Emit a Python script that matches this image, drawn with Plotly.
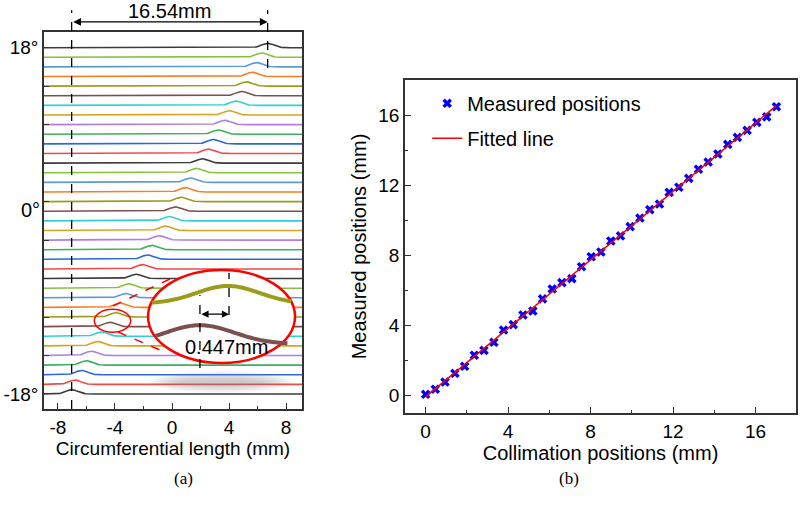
import numpy as np
import plotly.graph_objects as go

# ---- (a) stacked profiles, one per angle, listed bottom (-18°) to top (18°)
peak_pos = [-7.04, -6.81, -6.34, -6.00, -5.65, -5.20, -4.95, -4.35, -3.93, -3.62,
            -3.23, -3.02, -2.50, -2.05, -1.70, -1.40, -0.89, -0.45, -0.19, 0.25,
            0.66, 0.96, 1.31, 1.73, 2.13, 2.55, 2.90, 3.25, 3.72, 4.02,
            4.49, 4.89, 5.24, 5.64, 5.94, 6.29, 6.71]
angle_ticks = ["-18°", "18°"]
colors = ["#3c3c3c", "#86c240", "#5b9bd5", "#f57f27", "#9c9c1c", "#7d5050",
          "#2fd0d8", "#d6a323", "#b07ee6", "#3fae60", "#2a68dc", "#ee4a4a"]

# ---- (b) collimation vs measured positions (mm)
collim = [0.00, 0.47, 0.94, 1.42, 1.89, 2.36, 2.83, 3.31, 3.78, 4.25,
          4.72, 5.20, 5.67, 6.14, 6.61, 7.09, 7.56, 8.03, 8.50, 8.98,
          9.45, 9.92, 10.39, 10.87, 11.34, 11.81, 12.28, 12.76, 13.23, 13.70,
          14.17, 14.65, 15.12, 15.59, 16.06, 16.54, 17.01]
measured = [0.08, 0.37, 0.78, 1.28, 1.68, 2.31, 2.59, 3.05, 3.75, 4.06,
            4.61, 4.84, 5.53, 6.10, 6.46, 6.69, 7.37, 7.94, 8.21, 8.84,
            9.13, 9.66, 10.15, 10.63, 10.95, 11.62, 11.91, 12.42, 12.94, 13.35,
            13.81, 14.36, 14.76, 15.16, 15.62, 15.93, 16.51]

FONT = "Liberation Sans, Arial, sans-serif"
n = len(peak_pos)
xs = np.linspace(-8.98, 9.12, 500)

fig = go.Figure()

for i, c in enumerate(peak_pos):
    ys = i + 0.45 * np.exp(-((xs - c) ** 2) / (2 * 0.42 ** 2))
    fig.add_trace(go.Scatter(x=xs, y=ys, mode="lines", showlegend=False,
                             line=dict(color=colors[(n - 1 - i) % 12], width=1.6),
                             xaxis="x", yaxis="y", hoverinfo="skip"))

slope, icpt = np.polyfit(collim, measured, 1)
fit_x = [collim[0], collim[-1]]
fit_y = [icpt + slope * v for v in fit_x]

fig.add_trace(go.Scatter(x=collim, y=measured, mode="markers", name="Measured positions",
                         marker=dict(symbol="x", size=8.5, color="#0000ff"),
                         xaxis="x2", yaxis="y2", legendrank=1, legendgroup="a"))
fig.add_trace(go.Scatter(x=fit_x, y=fit_y, mode="lines", name="Fitted line",
                         line=dict(color="#ff0000", width=1.5),
                         xaxis="x2", yaxis="y2", legendrank=2, legendgroup="b"))


def gauss_path(c, base, amp, sig, x0, x1):
    px = np.linspace(x0, x1, 80)
    py = base + amp * np.exp(-((px - c) ** 2) / (2 * sig ** 2))
    return "M " + " L ".join(f"{a:.3f},{b:.3f}" for a, b in zip(px, py))


shapes = []
# soft shadow under the magnified view
for k in range(10):
    t = k / 9
    shapes.append(dict(type="circle", xref="x", yref="y", layer="above",
                       x0=-1.6 + 2.2 * t, x1=8.5 - 2.2 * t,
                       y0=0.1 + 0.9 * t, y1=2.4 - 0.9 * t,
                       fillcolor="#888888", opacity=0.05, line=dict(width=0)))
# magnified view
shapes.append(dict(type="circle", xref="x", yref="y", layer="above",
                   x0=-1.68, x1=8.63, y0=3.22, y1=12.89,
                   fillcolor="white", line=dict(color="#ff0000", width=2.5)))
shapes.append(dict(type="path", xref="x", yref="y", layer="above",
                   path=gauss_path(3.93, 9.4, 1.83, 2.2, -1.42, 8.36),
                   line=dict(color="#9c9c1c", width=4)))
shapes.append(dict(type="path", xref="x", yref="y", layer="above",
                   path=gauss_path(1.96, 5.2, 1.95, 2.4, -1.15, 8.1),
                   line=dict(color="#7d5050", width=4)))
shapes.append(dict(type="line", xref="x", yref="y", layer="above",
                   x0=1.96, x1=1.96, y0=2.7, y1=10.3,
                   line=dict(color="black", width=1.3, dash="dash")))
shapes.append(dict(type="line", xref="x", yref="y", layer="above",
                   x0=4.0, x1=4.0, y0=8.2, y1=12.6,
                   line=dict(color="black", width=1.3, dash="dash")))
# small circle + connecting dashed lines
shapes.append(dict(type="circle", xref="x", yref="y", layer="above",
                   x0=-5.45, x1=-2.90, y0=6.41, y1=8.80,
                   line=dict(color="#ff0000", width=1.5)))
shapes.append(dict(type="line", xref="x", yref="y", layer="above",
                   x0=-4.14, y0=9.15, x1=0.44, y1=12.37,
                   line=dict(color="#ff0000", width=1.5, dash="dash")))
shapes.append(dict(type="line", xref="x", yref="y", layer="above",
                   x0=-3.79, y0=6.44, x1=-0.84, y1=4.57,
                   line=dict(color="#ff0000", width=1.5, dash="dash")))
# span markers across the top
shapes.append(dict(type="line", xref="x", yref="paper", layer="above",
                   x0=peak_pos[0], x1=peak_pos[0], y0=0.1996, y1=0.98,
                   line=dict(color="black", width=1.3, dash="dash")))
shapes.append(dict(type="line", xref="x", yref="paper", layer="above",
                   x0=peak_pos[-1], x1=peak_pos[-1], y0=0.867, y1=0.98,
                   line=dict(color="black", width=1.3, dash="dash")))

annotations = [
    dict(x=peak_pos[-1], y=0.957, xref="x", yref="paper", ax=peak_pos[0], ay=0,
         axref="x", ayref="pixel", text="", showarrow=True, arrowside="end+start",
         arrowhead=2, arrowsize=1.2, arrowwidth=1.3, arrowcolor="black"),
    dict(x=-0.15, y=1 - 24 / 511, xref="x", yref="paper", yanchor="bottom",
         text="16.54mm", showarrow=False, font=dict(family=FONT, size=20, color="black")),
    dict(x=4.0, y=8.3, xref="x", yref="y", ax=1.96, ay=0, axref="x", ayref="pixel",
         text="", showarrow=True, arrowside="end+start", arrowhead=2,
         arrowsize=1.1, arrowwidth=1.3, arrowcolor="black"),
    dict(x=3.82, y=4.92, xref="x", yref="y", text="0.447mm", showarrow=False,
         font=dict(family=FONT, size=20, color="black")),
    dict(x=42 / 800, y=1 - 210 / 511, xref="paper", yref="paper", text="0°",
         xanchor="right", showarrow=False, font=dict(family=FONT, size=20, color="black")),
    dict(x=172 / 800, y=1 - 490 / 511, xref="paper", yref="paper", text="(a)",
         showarrow=False, font=dict(family="Liberation Serif, Times New Roman, serif",
                                    size=17, color="black")),
    dict(x=581 / 800, y=1 - 490 / 511, xref="paper", yref="paper", text="(b)",
         showarrow=False, font=dict(family="Liberation Serif, Times New Roman, serif",
                                    size=17, color="black")),
]

axis_common = dict(showline=True, mirror=True, linecolor="#333333", linewidth=1.5,
                   showgrid=False, zeroline=False, ticks="inside", ticklen=6,
                   tickwidth=1.3, tickcolor="#333333", automargin=False,
                   tickfont=dict(family=FONT, size=19, color="black"))

fig.update_layout(
    width=800, height=511, margin=dict(l=0, r=0, t=0, b=0),
    paper_bgcolor="white", plot_bgcolor="white",
    font=dict(family=FONT, color="black"),
    shapes=shapes, annotations=annotations,
    xaxis=dict(axis_common, domain=[44 / 800, 302 / 800], range=[-8.98, 9.12],
               tickvals=[-8, -4, 0, 4, 8], ticktext=["-8", "-4", "0", "4", "8"],
               minor=dict(tickvals=[-6, -2, 2, 6], ticks="inside", ticklen=3,
                          tickcolor="#333333"),
               title=dict(text="Circumferential length (mm)", standoff=2,
                          font=dict(family=FONT, size=19, color="black"))),
    yaxis=dict(axis_common, domain=[1 - 409 / 511, 1 - 32 / 511], range=[-1.56, 37.63],
               tickvals=[0, n - 1], ticktext=angle_ticks, ticklen=5,
               minor=dict(tickvals=list(range(4, n - 1, 4)), ticks="inside", ticklen=5,
                          tickcolor="#333333")),
    xaxis2=dict(axis_common, domain=[405 / 800, 796 / 800], range=[-1.0, 17.96],
                anchor="y2", dtick=4, tick0=0,
                minor=dict(dtick=2, ticks="inside", ticklen=3, tickcolor="#333333"),
                title=dict(text="Collimation positions (mm)", standoff=4,
                           font=dict(family=FONT, size=20, color="black"))),
    yaxis2=dict(axis_common, domain=[1 - 413 / 511, 1 - 80 / 511], range=[-0.99, 18.04],
                anchor="x2", dtick=4, tick0=0,
                minor=dict(dtick=2, ticks="inside", ticklen=3, tickcolor="#333333"),
                title=dict(text="Measured positions (mm)", standoff=6,
                           font=dict(family=FONT, size=20, color="black"))),
    legend=dict(x=0.534, y=0.836, xanchor="left", yanchor="top", bgcolor="rgba(0,0,0,0)",
                font=dict(family=FONT, size=20, color="black"), tracegroupgap=6),
)

fig.write_html("out.html", config={"displayModeBar": False},
               post_script="document.body.style.margin='0';")
